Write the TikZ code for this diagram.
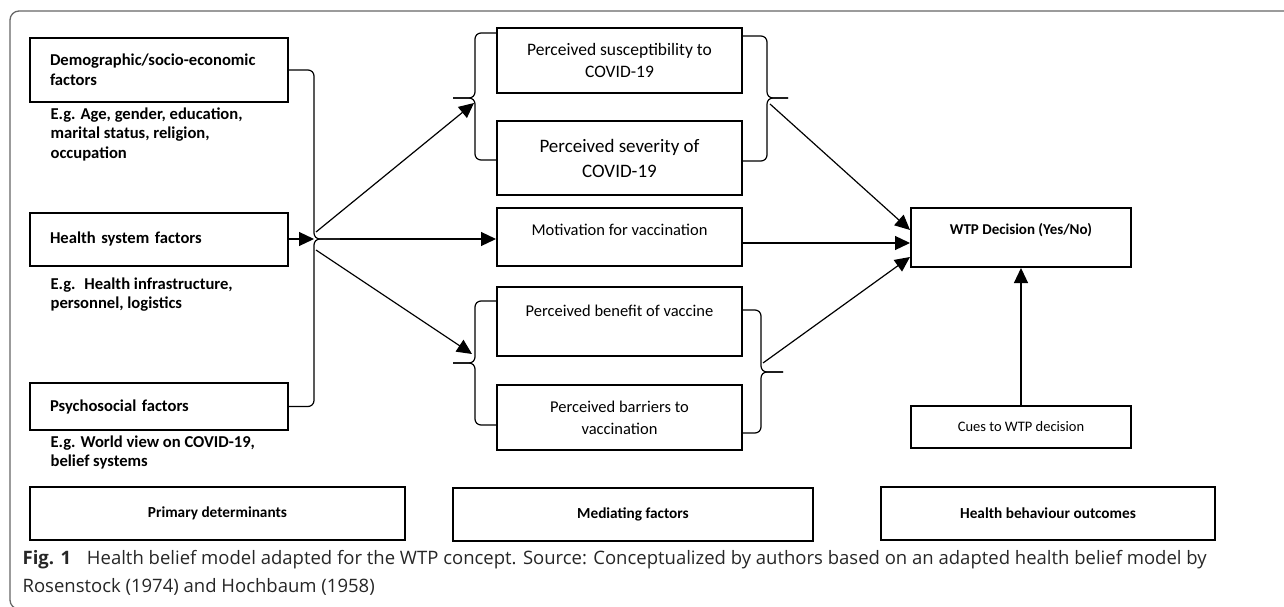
\documentclass[tikz,border=0pt]{standalone}
\usepackage{fontspec}
\setmainfont{Carlito}
\newfontfamily\capfont{Open Sans}
\usetikzlibrary{arrows.meta}

\tikzset{
  box/.style={draw, line width=2pt, inner sep=0pt, minimum width=245pt, align=center, font=\fontsize{16.5}{22}\selectfont},
  leftbox/.style={draw, line width=2pt, inner xsep=20pt, inner ysep=0pt, text width=218pt, align=left, font=\bfseries\fontsize{16.6}{20}\selectfont},
  footbox/.style={draw, line width=2pt, minimum height=53pt, font=\bfseries\fontsize{15.3}{18}\selectfont},
  egtext/.style={anchor=north west, align=left, inner sep=0pt, font=\bfseries\fontsize{16.6}{19.5}\selectfont},
  brc/.style={line width=1.2pt, rounded corners=6pt},
}
% x0 = box side, xv = stem, xt = tip
\newcommand{\curly}[6]{%
  \draw[brc] (#1,#4) -- (#2,#4) -- (#2,#5) -- (#3,#5);
  \draw[brc] (#3,#5) -- (#2,#5) -- (#2,#6) -- (#1,#6);}

\begin{document}
\begin{tikzpicture}[x=1pt, y=-1pt, line width=1.2pt, >={Triangle[length=15pt, width=14pt]}]
  \useasboundingbox (0,0) rectangle (1284,607);
  \draw[black!60, line width=1.3pt, rounded corners=9pt] (1300,11) -- (10,11) -- (10,609) -- (1300,609);

  \node (demo) at (159, 70) [leftbox, minimum height=64pt] {Demographic/socio-economic\\factors};
  \node (health) at (159, 239) [leftbox, minimum height=53pt] {Health system factors};
  \node (psych) at (159, 406.5) [leftbox, minimum height=47pt] {Psychosocial factors};
  \node (demoeg) at (50, 107) [egtext] {E.g. Age, gender, education,\\marital status, religion,\\occupation};
  \node (healtheg) at (50, 277) [egtext] {E.g.~ Health infrastructure,\\personnel, logistics};
  \node (psycheg) at (50, 435) [egtext] {E.g. World view on COVID-19,\\belief systems};

  \node (susc) at (619.5, 60.5) [box, minimum height=65pt, font=\fontsize{17.5}{22}\selectfont] {Perceived susceptibility to\\COVID-19};
  \node (sev) at (619.5, 158) [box, minimum height=74pt, font=\fontsize{19}{25}\selectfont] {Perceived severity of\\COVID-19};
  \node (motiv) at (619.5, 237) [box, minimum height=58pt, text height=12pt, text depth=15.6pt] {Motivation for vaccination};
  \node (benef) at (619.5, 321.5) [box, minimum height=69pt, text height=12pt, text depth=22.6pt] {Perceived benefit of vaccine};
  \node (barr) at (619.5, 417.5) [box, minimum height=65pt] {Perceived barriers to\\vaccination};

  \node (wtp) at (1021, 237.5) [box, minimum width=220pt, minimum height=59pt, text height=11pt, text depth=16.4pt, font=\bfseries\fontsize{15}{18}\selectfont] {WTP Decision (Yes/No)};
  \node (cues) at (1021, 427) [box, minimum width=220pt, minimum height=42pt, font=\fontsize{14.5}{18}\selectfont] {Cues to WTP decision};

  \node (primary) at (217.5, 513.5) [footbox, minimum width=375pt] {Primary determinants};
  \node (mediat) at (633, 514) [footbox, minimum width=360pt] {Mediating factors};
  \node (outcome) at (1048, 513) [footbox, minimum width=334pt] {Health behaviour outcomes};

  \curly{288}{314}{340}{70}{239}{406.5}
  \curly{497}{475}{453}{33}{98}{160}
  \curly{742}{767}{788}{36}{98}{161}
  \curly{497}{475}{453}{301}{363}{425}
  \curly{742}{761}{783}{310}{372}{433}

  \coordinate (lstem) at (314, 239);
  \coordinate (ltip) at (340, 239);
  \coordinate (lup) at (316, 232);
  \coordinate (ldown) at (316, 250);
  \coordinate (suscin) at (474, 103);
  \coordinate (benefin) at (472, 354);
  \coordinate (suscout) at (770, 104);
  \coordinate (benefout) at (763, 363);

  \draw[->] (health.east) to (lstem);
  \draw[->] (ltip) to (ltip -| motiv.west);
  \draw[->] (lup) to (suscin);
  \draw[->] (ldown) to (benefin);
  \draw[->] (suscout) to ([yshift=7.5pt]wtp.west);
  \draw[->] ([yshift=-6pt]motiv.east) to ([yshift=-6pt]motiv.east -| wtp.west);
  \draw[->] (benefout) to ([yshift=-19.5pt]wtp.west);
  \draw[->] (cues) to (wtp);

  \node (caption) at (22, 550) [anchor=north west, align=left, inner sep=0pt, text=black!85, font=\capfont\fontsize{18.5}{28}\selectfont] {\textbf{Fig. 1}\hspace{0.6em} Health belief model adapted for the WTP concept. Source: Conceptualized by authors based on an adapted health belief model by\\Rosenstock (1974) and Hochbaum (1958)};
\end{tikzpicture}
\end{document}
